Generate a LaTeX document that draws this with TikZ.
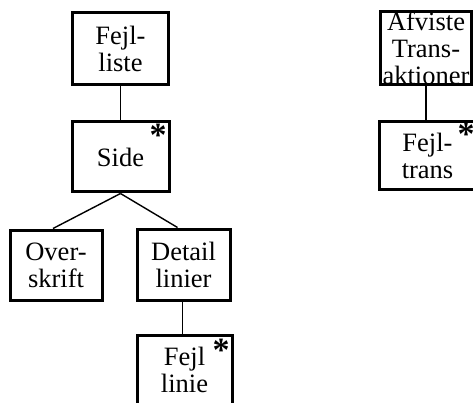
\documentclass[tikz,border=0pt]{standalone}
\usepackage{fontspec}
\setmainfont{Liberation Serif}
\begin{document}
\begin{tikzpicture}[x=1pt,y=-1pt,
  entity/.style={draw, line width=3pt, inner sep=0pt, align=center,
    font=\fontsize{26.5}{27}\selectfont},
  link/.style={line width=1.4pt},
  repeatmark/.style={inner sep=0pt, font=\fontsize{34}{34}\selectfont\bfseries}]
  \useasboundingbox (0,0) rectangle (473,403);
  \fill[white] (0,0) rectangle (473,403);

  % left tree
  \node[entity, minimum width=96pt, minimum height=72pt] (fejlliste) at (120.5,48.5) {Fejl-\\liste};
  \node[entity, minimum width=97pt, minimum height=70pt] (side) at (120.5,157) {Side};
  \node[entity, minimum width=92pt, minimum height=70pt] (overskrift) at (56,265) {Over-\\skrift};
  \node[entity, minimum width=93pt, minimum height=71pt] (detail) at (183.5,264.5) {Detail\\linier};
  \node[entity, minimum width=95pt, minimum height=70pt] (fejllinie) at (184.5,370) {Fejl\\linie};

  % right tree
  \node[entity, minimum width=91pt, minimum height=73pt] (afviste) at (426,48.5) {Afviste\\Trans-\\aktioner};
  \node[entity, minimum width=97pt, minimum height=68pt] (fejltrans) at (427.5,156) {Fejl-\\trans};

  % iteration marks
  \node[repeatmark] (starside) at (158,135) {*};
  \node[repeatmark] (starlinie) at (221,350) {*};
  \node[repeatmark] (startrans) at (466,134) {*};

  % connectors
  \draw[link] (fejlliste.south) -- (fejlliste.south |- side.north);
  \draw[link] (side.south) -- ([xshift=-3pt]overskrift.north);
  \draw[link] (side.south) -- ([xshift=-6pt]detail.north);
  \draw[link] ([xshift=-1pt]detail.south) -- ([xshift=-1pt]detail.south |- fejllinie.north);
  \draw[link] (afviste.south) -- (afviste.south |- fejltrans.north);
\end{tikzpicture}
\end{document}
